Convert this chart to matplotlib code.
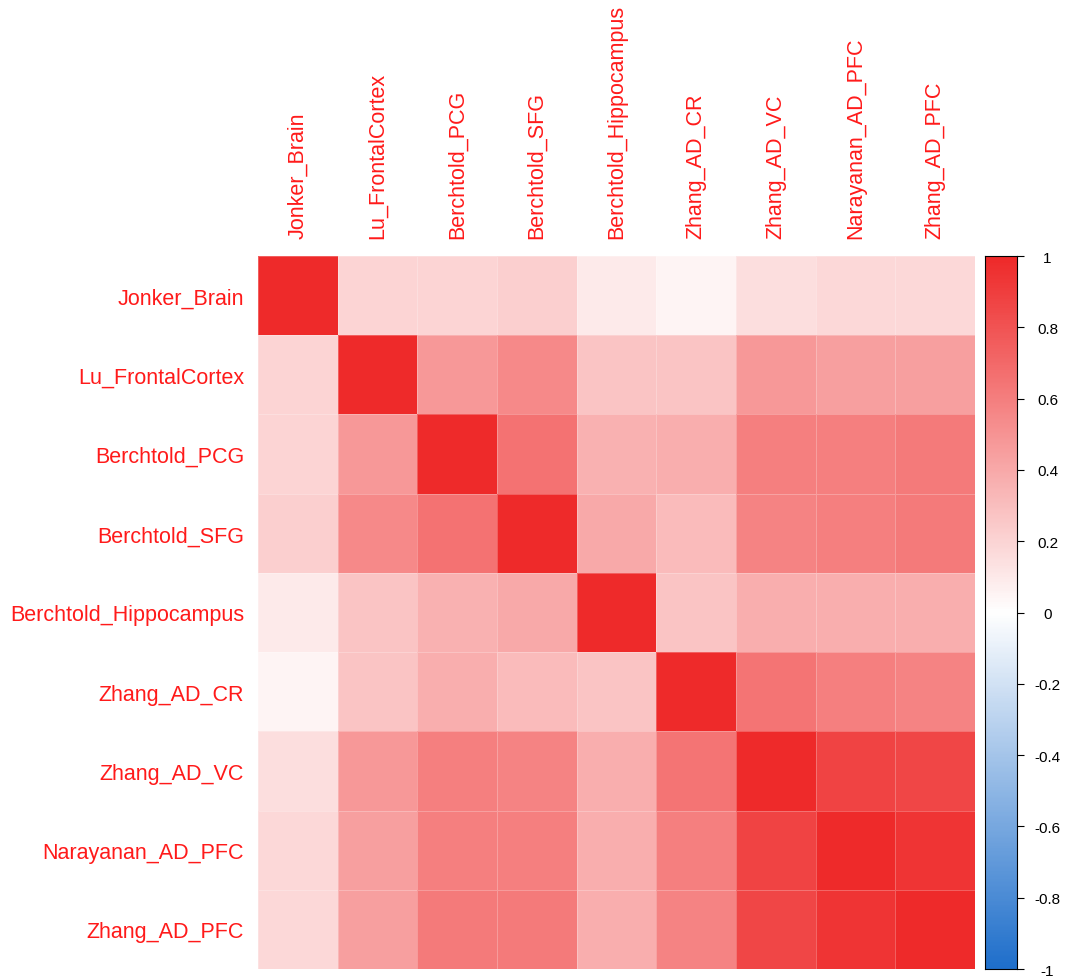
import matplotlib
matplotlib.use("Agg")
import matplotlib.pyplot as plt
from matplotlib.colors import LinearSegmentedColormap
import numpy as np

datasets = ["Jonker_Brain", "Lu_FrontalCortex", "Berchtold_PCG", "Berchtold_SFG",
            "Berchtold_Hippocampus", "Zhang_AD_CR", "Zhang_AD_VC",
            "Narayanan_AD_PFC", "Zhang_AD_PFC"]

corr = np.array([
    [1.00, 0.20, 0.20, 0.22, 0.10, 0.05, 0.15, 0.18, 0.18],
    [0.20, 1.00, 0.48, 0.55, 0.28, 0.28, 0.48, 0.45, 0.45],
    [0.20, 0.48, 1.00, 0.66, 0.36, 0.38, 0.60, 0.60, 0.62],
    [0.22, 0.55, 0.66, 1.00, 0.40, 0.32, 0.58, 0.60, 0.62],
    [0.10, 0.28, 0.36, 0.40, 1.00, 0.28, 0.38, 0.38, 0.38],
    [0.05, 0.28, 0.38, 0.32, 0.28, 1.00, 0.65, 0.60, 0.58],
    [0.15, 0.48, 0.60, 0.58, 0.38, 0.65, 1.00, 0.88, 0.86],
    [0.18, 0.45, 0.60, 0.60, 0.38, 0.60, 0.88, 1.00, 0.95],
    [0.18, 0.45, 0.62, 0.62, 0.38, 0.58, 0.86, 0.95, 1.00],
])

cbar_ticks = [1, 0.8, 0.6, 0.4, 0.2, 0, -0.2, -0.4, -0.6, -0.8, -1]

plt.rcParams["font.family"] = ["Liberation Sans", "DejaVu Sans"]
cmap = LinearSegmentedColormap.from_list("bwr2", ["#1F6FCB", "#FFFFFF", "#EE2A2A"])
label_col = "#FF1A1A"

fig = plt.figure(figsize=(10.67, 9.79), dpi=100)
ax = fig.add_axes([258 / 1067, 1 - 970 / 979, 717 / 1067, 713 / 979])
n = len(datasets)
ax.pcolormesh(np.arange(n + 1), np.arange(n + 1), corr, cmap=cmap,
              vmin=-1, vmax=1, edgecolor=(1, 1, 1, 0.25), linewidth=0.4)
ax.set_xlim(0, n)
ax.set_ylim(n, 0)
ax.set_xticks(np.arange(n) + 0.5)
ax.set_yticks(np.arange(n) + 0.5)
ax.set_xticklabels(datasets, rotation=90, color=label_col, fontsize=15.5)
ax.set_yticklabels(datasets, color=label_col, fontsize=15.5)
ax.xaxis.tick_top()
ax.tick_params(axis="y", length=0, pad=10)
ax.tick_params(axis="x", length=0, pad=13)
for s in ax.spines.values():
    s.set_visible(False)

cax = fig.add_axes([985 / 1067, 1 - 970 / 979, 32 / 1067, 713 / 979])
grad = np.linspace(-1, 1, 400).reshape(-1, 1)
cax.imshow(grad, cmap=cmap, vmin=-1, vmax=1, aspect="auto", origin="lower",
           extent=[0, 1, -1, 1])
cax.set_xticks([])
cax.yaxis.tick_right()
cax.set_yticks(cbar_ticks)
cax.set_yticklabels([f"{t:g}" for t in cbar_ticks], fontsize=11)
cax.tick_params(axis="y", length=5, width=0.8, pad=17)
for lab in cax.get_yticklabels():
    lab.set_horizontalalignment("center")
for s in cax.spines.values():
    s.set_linewidth(0.8)

fig.savefig("out.png", dpi=100, facecolor="white")
